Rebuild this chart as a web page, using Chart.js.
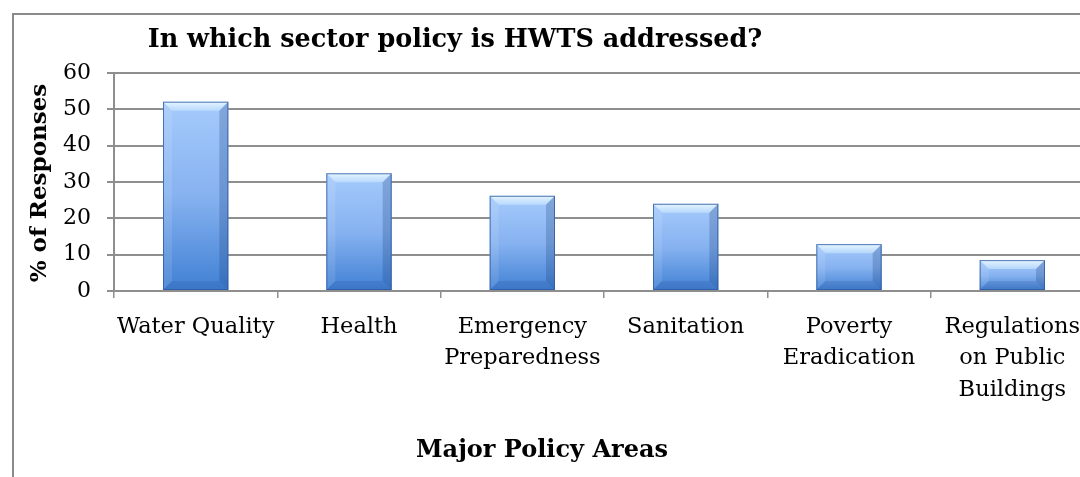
<!DOCTYPE html>
<html>
<head>
<meta charset="utf-8">
<script src="https://cdn.jsdelivr.net/npm/chart.js@4.4.1/dist/chart.umd.min.js"></script>
<style>
  html, body { margin:0; padding:0; background:#fff; overflow:hidden; }
  #wrap { position:absolute; left:0; top:0; width:1110px; height:477px; }
</style>
</head>
<body>
<div id="wrap"><canvas id="policyChart"></canvas></div>
<script>
// ---- data ----
const categories = [
  'Water Quality',
  'Health',
  ['Emergency', 'Preparedness'],
  'Sanitation',
  ['Poverty', 'Eradication'],
  ['Regulations', 'on Public', 'Buildings']
];
const responses = [52.1, 32.4, 26.2, 24.0, 12.9, 8.5];
const yTicks = [0, 10, 20, 30, 40, 50, 60];

const chartTitle = 'In which sector policy is HWTS addressed?';
const yTitle = '% of Responses';
const xTitle = 'Major Policy Areas';

const SERIF = '"DejaVu Serif", "Liberation Serif", serif';
const GRID = '#8e8e8e';

// each bar gets its own light-top / dark-bottom gradient
function barGradient(ctx) {
  const chart = ctx.chart;
  const y = chart.scales && chart.scales.y;
  if (!chart.chartArea || !y || ctx.raw == null) return '#6a9fe6';
  const top = y.getPixelForValue(ctx.raw), base = y.getPixelForValue(0);
  const g = chart.ctx.createLinearGradient(0, top, 0, base);
  g.addColorStop(0, '#a6cbfc');
  g.addColorStop(0.5, '#86b2f0');
  g.addColorStop(1, '#4080d4');
  return g;
}

// outer frame + titles, placed like the Excel chart
const frameAndTitles = {
  id: 'frameAndTitles',
  beforeDraw(chart) {
    const c = chart.ctx;
    c.save();
    c.strokeStyle = '#8a8a8a';
    c.lineWidth = 2;
    c.strokeRect(13, 14, 2000, 2000);
    c.restore();
  },
  afterDraw(chart) {
    const c = chart.ctx;
    c.save();
    c.fillStyle = '#000';
    c.textAlign = 'center';
    c.textBaseline = 'alphabetic';
    c.font = 'bold 25.5px ' + SERIF;
    c.fillText(chartTitle, 455, 47);
    c.font = 'bold 24px ' + SERIF;
    c.fillText(xTitle, 542, 457);
    c.translate(46, 183);
    c.rotate(-Math.PI / 2);
    c.font = 'bold 23px ' + SERIF;
    c.fillText(yTitle, 0, 0);
    c.restore();
  }
};

// soft bevel on each bar, using the bar elements laid out by Chart.js
const bevel = {
  id: 'bevel',
  afterDatasetsDraw(chart) {
    const c = chart.ctx;
    chart.getDatasetMeta(0).data.forEach(bar => {
      const l = bar.x - bar.width / 2, r = bar.x + bar.width / 2;
      const t = bar.y, b = bar.base, e = 9;
      c.save();
      const tg = c.createLinearGradient(0, t, 0, t + e);
      tg.addColorStop(0, '#e8f6ff');
      tg.addColorStop(1, 'rgba(205,232,255,0.55)');
      c.fillStyle = tg;
      c.beginPath();
      c.moveTo(l, t); c.lineTo(r, t); c.lineTo(r - e, t + e); c.lineTo(l + e, t + e); c.closePath();
      c.fill();
      c.fillStyle = 'rgba(25,60,120,0.25)';
      c.beginPath();
      c.moveTo(r, t); c.lineTo(r, b); c.lineTo(r - e, b - e); c.lineTo(r - e, t + e); c.closePath();
      c.fill();
      c.fillStyle = 'rgba(255,255,255,0.10)';
      c.beginPath();
      c.moveTo(l, t); c.lineTo(l, b); c.lineTo(l + e, b - e); c.lineTo(l + e, t + e); c.closePath();
      c.fill();
      c.fillStyle = 'rgba(25,60,120,0.15)';
      c.beginPath();
      c.moveTo(l, b); c.lineTo(r, b); c.lineTo(r - e, b - e); c.lineTo(l + e, b - e); c.closePath();
      c.fill();
      c.strokeStyle = 'rgba(45,90,160,0.8)';
      c.lineWidth = 1;
      c.strokeRect(l + 0.5, t + 0.5, r - l - 1, b - t - 1);
      c.restore();
    });
  }
};

new Chart(document.getElementById('policyChart'), {
  type: 'bar',
  data: {
    labels: categories,
    datasets: [{
      data: responses,
      backgroundColor: barGradient,
      borderWidth: 0,
      barPercentage: 0.8,
      categoryPercentage: 0.5
    }]
  },
  options: {
    responsive: true,
    maintainAspectRatio: false,
    animation: false,
    layout: { padding: { left: 0, right: 16, top: 73, bottom: 0 } },
    plugins: { legend: { display: false }, tooltip: { enabled: false }, title: { display: false } },
    scales: {
      x: {
        grid: { drawOnChartArea: false, color: GRID, lineWidth: 1.5, tickLength: 7, offset: true },
        border: { color: GRID, width: 2 },
        ticks: { color: '#000', font: { family: SERIF, size: 22.5, lineHeight: 1.4 }, padding: 13, maxRotation: 0, autoSkip: false },
        afterFit: s => { s.height = 186; }
      },
      y: {
        min: 0, max: 60,
        afterBuildTicks: s => { s.ticks = yTicks.map(v => ({ value: v })); },
        grid: { color: GRID, lineWidth: 2, tickLength: 7 },
        border: { color: GRID, width: 2 },
        ticks: { color: '#000', font: { family: SERIF, size: 22 }, padding: 16 },
        afterFit: s => { s.width = 114; }
      }
    }
  },
  plugins: [frameAndTitles, bevel]
});
</script>
</body>
</html>
